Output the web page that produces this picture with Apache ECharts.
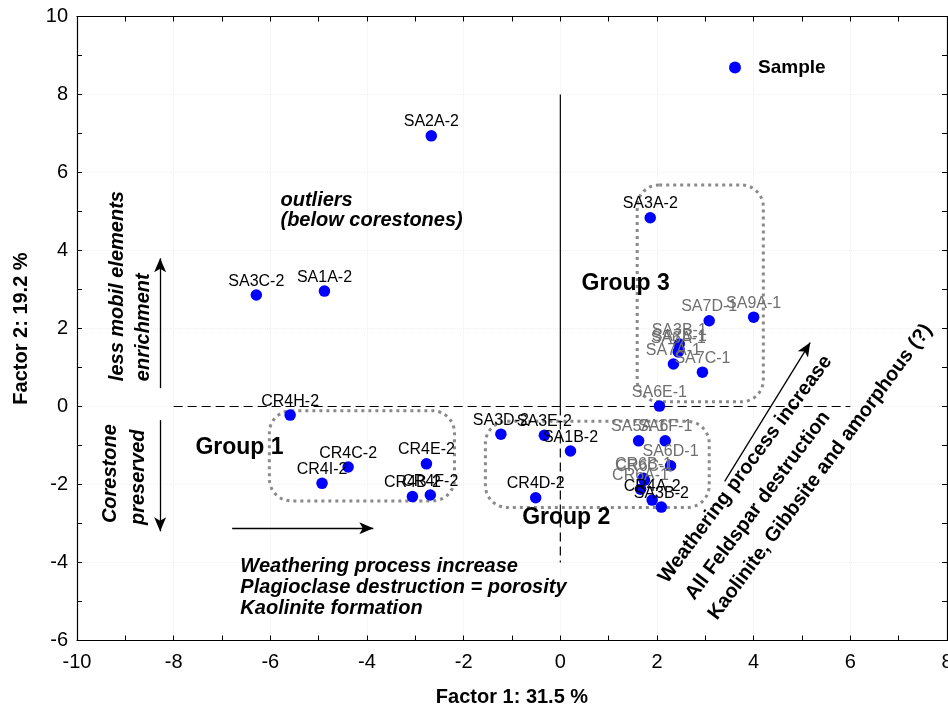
<!DOCTYPE html>
<html><head><meta charset="utf-8">
<script src="https://cdn.jsdelivr.net/npm/echarts@6/dist/echarts.min.js"></script>
<style>html,body{margin:0;padding:0;background:#fff}#c{width:948px;height:709px}</style>
</head><body><div id="c"></div>
<script>
// ---- data ----
const sampleNames = ['SA2A-2','SA3C-2','SA1A-2','SA3A-2','SA7D-1','SA9A-1','SA3B-1','SA7B-1','SA6A-1','SA7A-1','SA7C-1','SA6E-1','SA5A-1','SA6F-1','SA6D-1','CR6B-1','CR6C-1','CR6A-1','CR4A-2','SA3B-2','SA3D-2','SA3E-2','SA1B-2','CR4D-2','CR4H-2','CR4C-2','CR4I-2','CR4E-2','CR4B-2','CR4F-2'];
const factor1 = [-2.67,-6.29,-4.88,1.86,3.08,4.00,2.46,2.46,2.44,2.34,2.94,2.05,1.62,2.17,2.28,1.72,1.74,1.66,1.90,2.09,-1.23,-0.33,0.21,-0.51,-5.59,-4.39,-4.93,-2.77,-3.06,-2.69];
const factor2 = [6.94,2.86,2.96,4.84,2.20,2.29,1.60,1.45,1.40,1.09,0.88,0.01,-0.88,-0.88,-1.52,-1.84,-1.89,-2.12,-2.40,-2.58,-0.71,-0.74,-1.14,-2.34,-0.22,-1.55,-1.97,-1.47,-2.31,-2.27];
const xAxisTitle = 'Factor 1: 31.5 %';
const yAxisTitle = 'Factor 2: 19.2 %';
const seriesName = 'Sample';

// group outlines [x1, y1, x2, y2] in data units
const groupBoxes = [[-6.02,-0.11,-2.19,-2.42],[-1.55,-0.38,3.08,-2.59],[1.59,5.68,4.20,0.12]];
// reference lines
const zeroLineH = [[-8,0],[6,0]];
const zeroLineVSolid = [[0,8],[0,0]];
const zeroLineVDash = [[0,0],[0,-4]];
// arrows [x1,y1,x2,y2]
const arrows = [[-8.28,0.47,-8.28,3.80],[-8.28,-0.35,-8.28,-3.20],[-6.79,-3.12,-3.87,-3.12],[3.40,-1.92,5.17,1.64]];
// annotation texts
const noteTexts = ['outliers','(below corestones)','Weathering process increase','Plagioclase destruction = porosity','Kaolinite formation','Group 1','Group 2','Group 3','less mobil elements','enrichment','Corestone','preserved','Weathering process increase','All Feldspar destruction','Kaolinite, Gibbsite and amorphous (?)'];
const noteX = [-5.79,-5.79,-6.62,-6.62,-6.62,-7.55,-0.79,0.44,-9.17,-8.63,-9.31,-8.73,2.12,2.68,3.15];
const noteY = [5.29,4.76,-4.09,-4.63,-5.19,-1.05,-2.86,3.14,0.65,0.65,-2.99,-3.04,-4.47,-4.90,-5.41];

// ---- styles ----
const FONT = "'Liberation Sans', Arial, Helvetica, sans-serif";
const noteStyle = [
  {size:20,italic:true,rot:0},{size:20,italic:true,rot:0},
  {size:20,italic:true,rot:0},{size:20,italic:true,rot:0},{size:20,italic:true,rot:0},
  {size:23,italic:false,rot:0},{size:23,italic:false,rot:0},{size:23,italic:false,rot:0},
  {size:20,italic:true,rot:90},{size:20,italic:true,rot:90},{size:20,italic:true,rot:90},{size:20,italic:true,rot:90},
  {size:20,italic:false,rot:53.5},{size:20,italic:false,rot:53.5},{size:20,italic:false,rot:53.5}
];

const chart = echarts.init(document.getElementById('c'), null, {renderer:'canvas'});

const scatterData = sampleNames.map((n,i)=>({
  name:n, value:[factor1[i], factor2[i]],
  label:{color: /-1$/.test(n) ? '#6f6f6f' : '#000'}
}));

const axisCommon = {
  axisLine:{show:true, onZero:false, lineStyle:{color:'#000', width:1.2}},
  axisTick:{show:true, inside:true, length:5, lineStyle:{color:'#000'}},
  minorTick:{show:true, splitNumber:2, length:5, lineStyle:{color:'#000'}},
};

chart.setOption({
  animation:false,
  backgroundColor:'#fff',
  grid:{left:77, right:1, top:16.5, bottom:68.5, containLabel:false, outerBoundsMode:'none'},
  legend:{data:[seriesName], left:724, top:53, icon:'circle', itemWidth:12, itemHeight:12,
    itemStyle:{opacity:1},
    textStyle:{fontFamily:FONT, fontSize:19, fontWeight:'bold', color:'#000', padding:[0,0,0,12]}},
  xAxis:[
    Object.assign({type:'value', min:-10, max:8, interval:2, position:'bottom',
      name:xAxisTitle, nameLocation:'middle', nameGap:47,
      nameTextStyle:{fontFamily:FONT, fontSize:20, fontWeight:'bold', color:'#000'},
      axisLabel:{fontFamily:FONT, fontSize:20, color:'#000', margin:12},
      splitLine:{show:true, lineStyle:{color:'#f0f0f0', type:'dotted'}}}, axisCommon),
    Object.assign({type:'value', min:-10, max:8, interval:2, position:'top',
      axisLabel:{show:false}, splitLine:{show:false}}, axisCommon)
  ],
  yAxis:[
    Object.assign({type:'value', min:-6, max:10, interval:2, position:'left',
      name:yAxisTitle, nameLocation:'middle', nameGap:46,
      nameTextStyle:{fontFamily:FONT, fontSize:20, fontWeight:'bold', color:'#000'},
      axisLabel:{fontFamily:FONT, fontSize:20, color:'#000', margin:9},
      splitLine:{show:true, lineStyle:{color:'#f0f0f0', type:'dotted'}}}, axisCommon),
    Object.assign({type:'value', min:-6, max:10, interval:2, position:'right',
      axisLabel:{show:false}, splitLine:{show:false}}, axisCommon)
  ],
  series:[
    {
      type:'custom', name:'groups', silent:true, z:1,
      data: groupBoxes,
      encode:{x:[0,2], y:[1,3]},
      renderItem:function(params, api){
        const b = groupBoxes[params.dataIndex];
        const p1 = api.coord([b[0], b[1]]), p2 = api.coord([b[2], b[3]]);
        return {type:'rect', shape:{x:p1[0], y:p1[1], width:p2[0]-p1[0], height:p2[1]-p1[1], r:22},
          style:{fill:'none', stroke:'#8a8a8a', lineWidth:3, lineDash:[3,4]}};
      }
    },
    {
      type:'line', name:'h0', data:zeroLineH, showSymbol:false, silent:true, z:2,
      lineStyle:{color:'#000', width:1.2, type:[9,5]},
      markLine:{silent:true, symbol:['none','arrow'], symbolSize:[9,14], precision:4,
        label:{show:false}, lineStyle:{color:'#000', width:1.3, type:'solid'},
        emphasis:{disabled:true},
        data: arrows.map(a=>[{coord:[a[0],a[1]]},{coord:[a[2],a[3]]}])}
    },
    {type:'line', name:'v0', data:zeroLineVSolid, showSymbol:false, silent:true, z:2,
      lineStyle:{color:'#000', width:1.2, type:'solid'}},
    {type:'line', name:'v0d', data:zeroLineVDash, showSymbol:false, silent:true, z:2,
      lineStyle:{color:'#000', width:1.2, type:[9,5]}},
    {
      type:'custom', name:'notes', silent:true, z:3,
      data: noteTexts.map((t,i)=>[noteX[i], noteY[i]]),
      encode:{x:0, y:1},
      renderItem:function(params, api){
        const i = params.dataIndex, s = noteStyle[i];
        const p = api.coord([noteX[i], noteY[i]]);
        return {type:'text', x:p[0], y:p[1], rotation: s.rot*Math.PI/180,
          style:{text:noteTexts[i], x:0, y:0, fill:'#000', align:'left', verticalAlign:'middle',
            font:(s.italic?'italic ':'')+'bold '+s.size+'px '+FONT}};
      }
    },
    {
      type:'scatter', name:seriesName, data:scatterData, symbol:'circle', symbolSize:11.5, z:5,
      itemStyle:{color:'#0000ff', opacity:1},
      label:{show:true, position:'top', distance:0, formatter:'{b}', fontFamily:FONT, fontSize:16}
    }
  ]
});
</script>
</body></html>
